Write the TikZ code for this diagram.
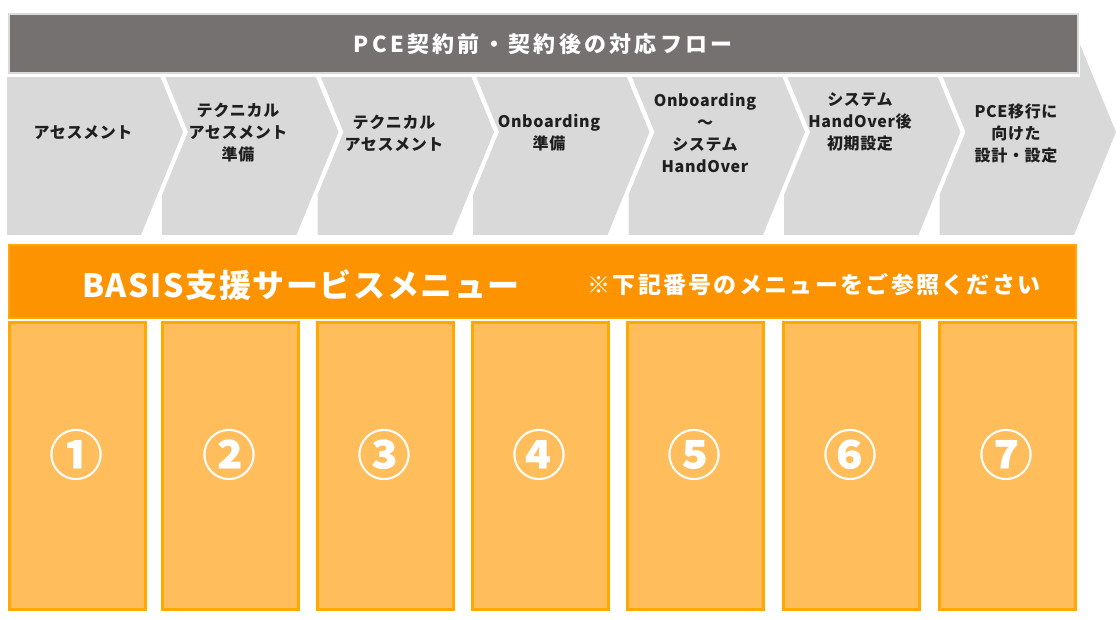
\documentclass[tikz,border=0pt]{standalone}
\usepackage{fontspec}
\setmainfont{Noto Sans CJK JP}
\usepackage{tikz}
\usetikzlibrary{positioning}

\definecolor{titlegray}{HTML}{757170}
\definecolor{stepgray}{HTML}{D9D9D9}
\definecolor{headorange}{HTML}{FD9300}
\definecolor{lineorange}{HTML}{FFA800}
\definecolor{colorange}{HTML}{FFBD5B}

\begin{document}
\begin{tikzpicture}[x=1pt, y=-1pt,
	stepshape/.style={fill=stepgray},
	steplabel/.style={align=center, text=black!88, inner sep=0pt,
		font=\bfseries\fontsize{16}{22}\selectfont\addfontfeatures{LetterSpace=4}},
	menucol/.style={rectangle, draw=lineorange, line width=2.5pt, fill=colorange,
		minimum width=136pt, minimum height=287pt, anchor=north west, inner sep=0pt},
	menunum/.style={text=white, inner sep=0pt, font=\bfseries\fontsize{54}{54}\selectfont},
	]
	\useasboundingbox (0,0) rectangle (1120,620);
	% flow steps (chevrons)
	\fill[stepshape] (7,13) -- (134,13) -- (183,132) -- (141,235) -- (7,235) -- cycle;
	\fill[stepshape] (139,13) -- (289.5,13) -- (338.5,132) -- (296.5,235) -- (162,235) -- (162,195) -- (188,132) -- cycle;
	\fill[stepshape] (294.5,13) -- (445,13) -- (494,132) -- (452,235) -- (317.5,235) -- (317.5,195) -- (343.5,132) -- cycle;
	\fill[stepshape] (450,13) -- (600.5,13) -- (649.5,132) -- (607.5,235) -- (473,235) -- (473,195) -- (499,132) -- cycle;
	\fill[stepshape] (605.5,13) -- (756,13) -- (805,132) -- (763,235) -- (628.5,235) -- (628.5,195) -- (654.5,132) -- cycle;
	\fill[stepshape] (761,13) -- (911.5,13) -- (960.5,132) -- (918.5,235) -- (784,235) -- (784,195) -- (810,132) -- cycle;
	\fill[stepshape] (916.5,13) -- (1067,13) -- (1116,132) -- (1074,235) -- (939.5,235) -- (939.5,195) -- (965.5,132) -- cycle;
	
	% title bar
	\fill[white] (3,9) rectangle (1080,77);
	\node[rectangle, fill=titlegray, draw=black!15, line width=1.5pt, anchor=north west,
		minimum width=1069pt, minimum height=59pt, text=white,
		font=\bfseries\fontsize{22}{22}\selectfont\addfontfeatures{LetterSpace=15}] (T) at (8,13.5) {PCE契約前・契約後の対応フロー};
	
	\node[steplabel] (S1) at (83,133) {アセスメント};
	\node[steplabel] (S2) at (238,133) {テクニカル\\アセスメント\\準備};
	\node[steplabel] (S3) at (394,133) {テクニカル\\アセスメント};
	\node[steplabel] (S4) at (549,133) {Onboarding\\準備};
	\node[steplabel] (S5) at (705,133) {Onboarding\\～\\システム\\HandOver};
	\node[steplabel] (S6) at (860,122) {システム\\HandOver後\\初期設定};
	\node[steplabel] (S7) at (1016,133) {PCE移行に\\向けた\\設計・設定};
	
	% service menu
	\node[rectangle, fill=headorange, draw=lineorange, line width=2pt, anchor=north west,
		minimum width=1067pt, minimum height=73pt] (H) at (8,244) {};
	\node[text=white, inner sep=0pt, font=\bfseries\fontsize{32}{32}\selectfont\addfontfeatures{LetterSpace=5}] (H1) at (301,285) {BASIS支援サービスメニュー};
	\node[text=white, inner sep=0pt, font=\bfseries\fontsize{23}{23}\selectfont\addfontfeatures{LetterSpace=10}] (H2) at (814,285) {※下記番号のメニューをご参照ください};
	
	\node[menucol] (C1) at (8.25,321.25) {};
	\node[menucol] (C2) at (161.25,321.25) {};
	\node[menucol] (C3) at (316.25,321.25) {};
	\node[menucol] (C4) at (471.25,321.25) {};
	\node[menucol] (C5) at (626.25,321.25) {};
	\node[menucol] (C6) at (782.25,321.25) {};
	\node[menucol] (C7) at (938.25,321.25) {};
	
	\node[menunum] (N1) at (76,455) {①};
	\node[menunum] (N2) at (229,455) {②};
	\node[menunum] (N3) at (384,455) {③};
	\node[menunum] (N4) at (539,455) {④};
	\node[menunum] (N5) at (694,455) {⑤};
	\node[menunum] (N6) at (850,455) {⑥};
	\node[menunum] (N7) at (1006,455) {⑦};
\end{tikzpicture}
\end{document}
